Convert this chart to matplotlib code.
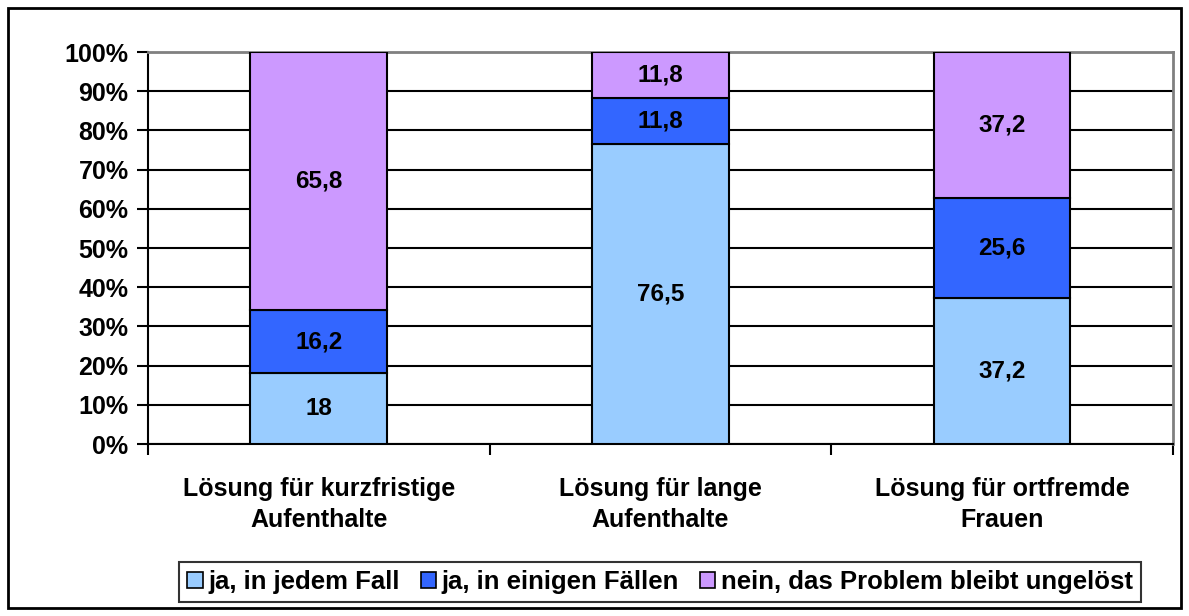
import numpy as np
import matplotlib.pyplot as plt
from matplotlib.patches import Rectangle, Patch

plt.rcParams['font.family'] = ['Liberation Sans', 'DejaVu Sans']
plt.rcParams['font.weight'] = 'bold'

categories = ['Lösung für kurzfristige\nAufenthalte', 'Lösung für lange\nAufenthalte',
              'Lösung für ortfremde\nFrauen']
series_names = ['ja, in jedem Fall', 'ja, in einigen Fällen', 'nein, das Problem bleibt ungelöst']
ja_immer = [18, 76.5, 37.2]
ja_einige = [16.2, 11.8, 25.6]
nein = [65.8, 11.8, 37.2]
label_text = [['18', '76,5', '37,2'], ['16,2', '11,8', '25,6'], ['65,8', '11,8', '37,2']]
colors = ['#99CCFF', '#3366FF', '#CC99FF']

W, H = 1189, 616
fig = plt.figure(figsize=(W / 100, H / 100), dpi=100)
fig.patches.append(Rectangle((8 / W, 8 / H), 1173 / W, 600 / H, transform=fig.transFigure,
                             fill=False, edgecolor='black', linewidth=2))
ax = fig.add_axes([148 / W, (H - 444) / H, 1025 / W, 392 / H])

data = np.array([ja_immer, ja_einige, nein])
pct = data / data.sum(axis=0) * 100
x = np.arange(len(categories))
bottom = np.zeros(len(categories))
for i in range(3):
    ax.bar(x, pct[i], 0.4, bottom=bottom, color=colors[i], edgecolor='black',
           linewidth=1.5, zorder=3)
    for j in range(3):
        ax.text(x[j], bottom[j] + pct[i][j] / 2, label_text[i][j], ha='center', va='center',
                fontsize=17.5, fontweight='bold', zorder=4)
    bottom += pct[i]

ax.set_xlim(-0.5, 2.5)
ax.set_ylim(0, 100)
ax.set_yticks(np.arange(0, 101, 10))
ax.set_yticklabels([f'{v}%' for v in range(0, 101, 10)], fontsize=18, fontweight='bold')
ax.yaxis.grid(True, color='black', linewidth=1.5, zorder=0)
ax.set_axisbelow(True)
ax.set_xticks(x)
ax.set_xticklabels(categories, fontsize=18, fontweight='bold', linespacing=1.35)
ax.tick_params(axis='x', which='major', length=0, pad=24)
ax.set_xticks([-0.5, 0.5, 1.5, 2.5], minor=True)
ax.tick_params(axis='x', which='minor', length=8, width=1.5, direction='out')
ax.tick_params(axis='y', length=8, width=1.5, direction='out', pad=6)
for s in ['left', 'bottom']:
    ax.spines[s].set_linewidth(1.5)
    ax.spines[s].set_color('black')
for s in ['top', 'right']:
    ax.spines[s].set_linewidth(2)
    ax.spines[s].set_color('#808080')

handles = [Patch(facecolor=colors[i], edgecolor='black', linewidth=1.2) for i in range(3)]
leg = fig.legend(handles, series_names, loc='center', bbox_to_anchor=(660 / W, 1 - 582 / H),
                 ncol=3, frameon=True, fancybox=False, handlelength=0.62,
                 handleheight=0.62, handletextpad=0.2, columnspacing=0.8, borderpad=0.33,
                 borderaxespad=0, prop={'weight': 'bold', 'size': 18.5})
leg.get_frame().set_edgecolor('black')
leg.get_frame().set_linewidth(1.5)

fig.savefig('out.png', dpi=100)
